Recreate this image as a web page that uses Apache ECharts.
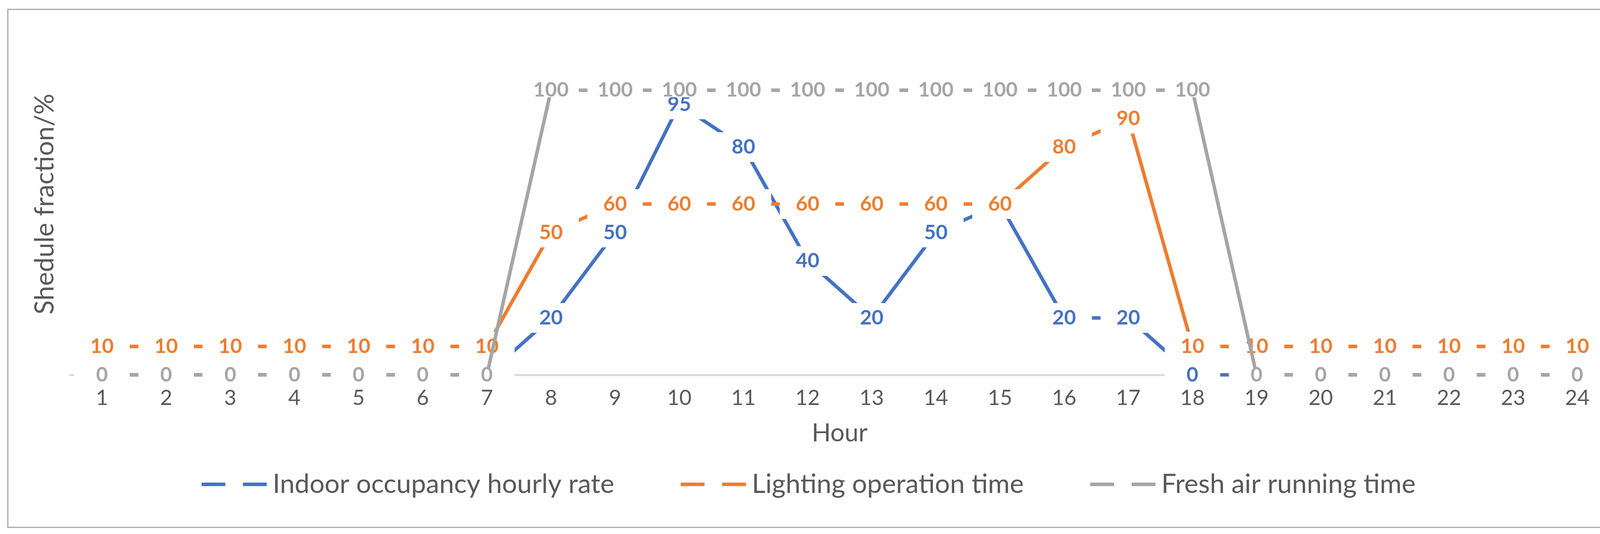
<!DOCTYPE html>
<html><head><meta charset="utf-8">
<script src="https://cdn.jsdelivr.net/npm/echarts@6/dist/echarts.min.js"></script>
<style>html,body{margin:0;padding:0;background:#fff}#c{width:4140px;height:1366px}</style>
</head><body><div id="c"></div>
<script>
const hours = ['1','2','3','4','5','6','7','8','9','10','11','12','13','14','15','16','17','18','19','20','21','22','23','24'];
const occupancy = [0,0,0,0,0,0,0,20,50,95,80,40,20,50,60,20,20,0,0,0,0,0,0,0];
const lighting  = [10,10,10,10,10,10,10,50,60,60,60,60,60,60,60,80,90,10,10,10,10,10,10,10];
const freshAir  = [0,0,0,0,0,0,0,100,100,100,100,100,100,100,100,100,100,100,0,0,0,0,0,0];
const seriesNames = ['Indoor occupancy hourly rate','Lighting operation time','Fresh air running time'];
const seriesColors = ['#4472C4','#ED7D31','#A5A5A5'];
const seriesData = [occupancy, lighting, freshAir];
const boxHeights = [76, 76, 36];

const FONT = 'Lato, "Noto Sans", sans-serif';
const series = [];
seriesData.forEach((d, i) => {
  series.push({
    name: seriesNames[i], type: 'line', data: d, symbol: 'none', silent: true,
    lineStyle: {color: seriesColors[i], width: 9, cap: 'butt', join: 'miter'},
    itemStyle: {color: seriesColors[i]}, z: 2 + 2 * i
  });
  series.push({
    name: 'label-' + i, type: 'scatter', data: d, symbolSize: 1, silent: true,
    itemStyle: {color: 'rgba(0,0,0,0)', opacity: 1}, z: 3 + 2 * i,
    label: {
      show: true, position: 'inside', formatter: p => String(p.value),
      color: seriesColors[i], fontFamily: FONT, fontWeight: 'bold', fontSize: 52,
      backgroundColor: '#ffffff', width: 142, height: boxHeights[i], lineHeight: boxHeights[i],
      align: 'center', verticalAlign: 'middle', opacity: 1
    }
  });
});

const chart = echarts.init(document.getElementById('c'), null, {renderer: 'canvas'});
chart.setOption({
  animation: false,
  backgroundColor: '#ffffff',
  grid: {left: 179, right: 20, top: 85, bottom: 407, containLabel: false},
  xAxis: {
    type: 'category', data: hours, boundaryGap: true,
    axisLine: {lineStyle: {color: '#d9d9d9', width: 5}},
    axisTick: {show: false},
    axisLabel: {color: '#595959', fontSize: 54, fontFamily: FONT, margin: 33},
    name: 'Hour', nameLocation: 'middle', nameGap: 117,
    nameTextStyle: {color: '#595959', fontSize: 64, fontFamily: FONT}
  },
  yAxis: {
    type: 'value', min: 0, max: 120, interval: 20,
    axisLine: {show: false}, axisTick: {show: false}, axisLabel: {show: false},
    splitLine: {show: false},
    name: 'Shedule fraction/%', nameLocation: 'middle', nameGap: 30,
    nameTextStyle: {color: '#595959', fontSize: 67, fontFamily: FONT}
  },
  legend: {
    data: seriesNames, left: 'center', top: 1200, itemGap: 170,
    itemWidth: 167, itemHeight: 9,
    icon: 'path://M0,0H61V9H0Z M106,0H167V9H106Z',
    itemStyle: {borderWidth: 0},
    textStyle: {color: '#595959', fontSize: 68, fontFamily: FONT, padding: [0,0,0,10]}
  },
  graphic: [{
    type: 'rect', silent: true, z: 100,
    shape: {x: 20, y: 24, width: 4101, height: 1325},
    style: {fill: 'none', stroke: '#a6a6a6', lineWidth: 3}
  }],
  series: series
});
</script></body></html>
